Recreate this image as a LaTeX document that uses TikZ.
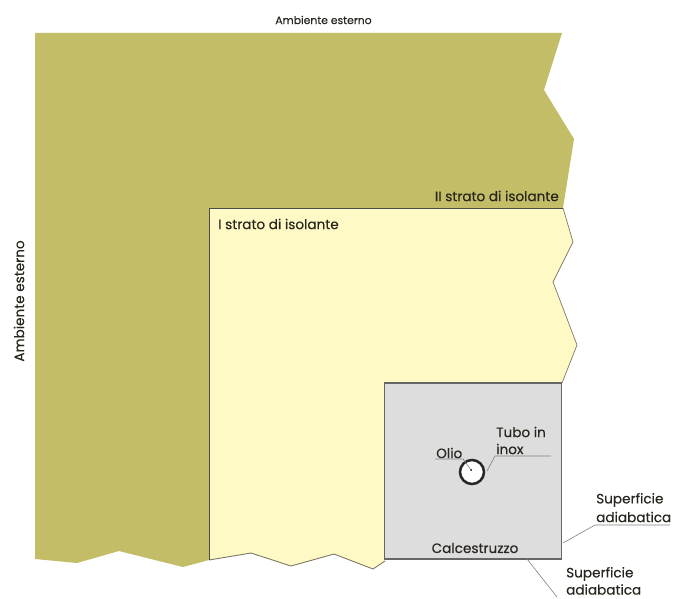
\documentclass[tikz,border=0pt]{standalone}
\usepackage{fontspec}
\setmainfont{Poppins}
\definecolor{olivefill}{RGB}{195,189,103}
\definecolor{creamfill}{RGB}{255,250,197}
\definecolor{concretefill}{RGB}{221,221,221}
\definecolor{edgegrey}{RGB}{125,120,100}
\definecolor{txt}{RGB}{40,38,30}
\tikzset{
  lbl/.style={font=\fontsize{13.6}{15}\selectfont\addfontfeature{FakeBold=0.35}, text=txt, inner sep=0pt},
  lblsmall/.style={lbl, font=\fontsize{10.8}{13}\selectfont\addfontfeature{FakeBold=0.35}},
  leader/.style={draw=black!50, line width=0.6pt},
}
\begin{document}
\begin{tikzpicture}[x=1pt,y=-1pt]
\useasboundingbox (0,0) rectangle (674,599);
% outer insulation
\fill[olivefill] (35,33) -- (562,33) -- (544,90) -- (574,139) -- (563,208) -- (209,208) -- (209,560) -- (183,567) -- (119,551) -- (77,563) -- (35,559) -- cycle;
% inner insulation
\fill[creamfill] (209,208) -- (563,208) -- (573,242) -- (553,282) -- (577,345) -- (562,383) -- (385,383) -- (385,561) -- (373,569) -- (334,554) -- (291,566) -- (251,553) -- (209,560) -- cycle;
\draw[edgegrey, line width=0.7pt] (563,208) -- (573,242) -- (553,282) -- (577,345) -- (562,383);
\draw[edgegrey, line width=0.9pt] (385,561) -- (373,569) -- (334,554) -- (291,566) -- (251,553) -- (209,560);
\draw[black!70, line width=0.9pt] (209,560) -- (209,208) -- (563,208);
% concrete
\draw[draw=black!60, fill=concretefill, line width=1.3pt] (384.5,383) rectangle (561.5,559);
% pipe
\node[circle, draw=black!85, fill=white, line width=2.5pt, minimum size=24pt, inner sep=0pt] (pipe) at (472,472) {};
\coordinate (oilpt) at (471,470);
\fill[black] (oilpt) circle (1pt);
% labels
\node[lblsmall] (top) at (323.5,20) {Ambiente esterno};
\node[lbl, rotate=90] (left) at (19,301) {Ambiente esterno};
\node[lbl, anchor=east] (ii) at (559,196) {II strato di isolante};
\node[lbl, anchor=west] (i) at (218,224) {I strato di isolante};
\node[lbl, anchor=west] (tubo1) at (496,432) {Tubo in};
\node[lbl, anchor=west] (tubo2) at (496,449) {inox};
\node[lbl, anchor=west] (olio) at (436,453) {Olio};
\node[lbl] (calc) at (475,548) {Calcestruzzo};
\node[lbl, anchor=west] (sup1a) at (596,500) {Superficie};
\node[lbl, anchor=west] (sup1b) at (596,517) {adiabatica};
\node[lbl, anchor=west] (sup2a) at (566,574) {Superficie};
\node[lbl, anchor=west] (sup2b) at (566,589.5) {adiabatica};
% leaders
\coordinate (oa) at (435,459);
\coordinate (ob) at (463,459);
\draw[leader] (oa) -- (ob) -- (oilpt);
\coordinate (ta) at (551,456);
\coordinate (tb) at (495,456);
\coordinate (tc) at (487,471);
\draw[leader] (ta) -- (tb) -- (tc);
\coordinate (sa) at (670,525);
\coordinate (sb) at (595,525);
\coordinate (sc) at (563,543);
\draw[leader] (sa) -- (sb) -- (sc);
\coordinate (ua) at (527,559);
\coordinate (ub) at (557,597);
\draw[leader] (ua) -- (ub);
\end{tikzpicture}
\end{document}
